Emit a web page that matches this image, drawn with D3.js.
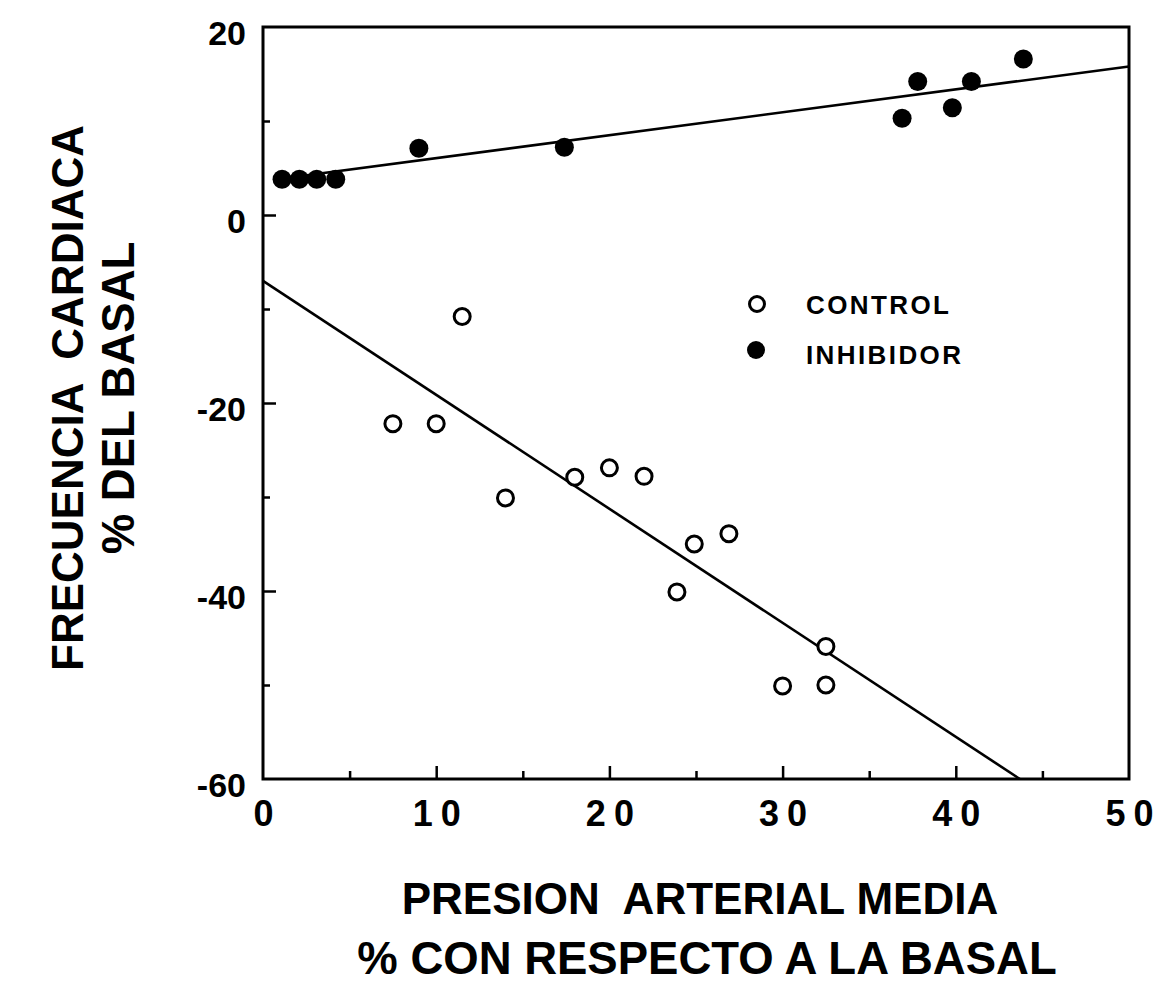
<!DOCTYPE html>
<html>
<head>
<meta charset="utf-8">
<script src="https://cdn.jsdelivr.net/npm/d3@7/dist/d3.min.js"></script>
<style>
  html, body { margin: 0; padding: 0; background: #fff; }
  svg { display: block; }
  text { font-family: "Liberation Sans", Arial, Helvetica, sans-serif; font-weight: bold; fill: #000; }
</style>
</head>
<body>
<svg id="chart" width="1161" height="992"></svg>
<script>
// Heart rate change vs. mean arterial pressure change (% of baseline)
const controlX = [7.5, 10.0, 11.5, 14.0, 18.0, 20.0, 22.0, 24.9, 26.9, 23.9, 30.0, 32.5, 32.5];
const controlY = [-22.2, -22.2, -10.8, -30.1, -27.9, -26.9, -27.8, -35.0, -33.9, -40.1, -50.1, -45.9, -50.0];

const inhibidorX = [1.1, 2.1, 3.1, 4.2, 9.0, 17.4, 36.9, 37.8, 39.8, 40.9, 43.9];
const inhibidorY = [3.8, 3.8, 3.8, 3.8, 7.1, 7.2, 10.3, 14.2, 11.4, 14.2, 16.6];

// Fitted regression lines (endpoints)
const controlFitX = [0, 43.7];
const controlFitY = [-7.0, -60.0];
const inhibidorFitX = [1.0, 50.0];
const inhibidorFitY = [3.85, 15.8];

const xTickLabels = [0, 10, 20, 30, 40, 50];
const xMajorTicks = [10, 20, 30, 40];
const xMinorTicks = [5, 15, 25, 35, 45];
const yTickLabels = [20, 0, -20, -40, -60];
const yMajorTicks = [0, -20, -40];
const yMinorTicks = [10, -10, -30, -50];

const legendLabels = ["CONTROL", "INHIBIDOR"];
const xTitle = ["PRESION  ARTERIAL MEDIA", "% CON RESPECTO A LA BASAL"];
const yTitle = ["FRECUENCIA  CARDIACA", "% DEL BASAL"];

const svg = d3.select("#chart");
const plotLeft = 263, plotRight = 1129, plotTop = 27, plotBottom = 779;

const x = d3.scaleLinear().domain([0, 50]).range([plotLeft, plotRight]);
const y = d3.scaleLinear().domain([-60, 20]).range([plotBottom, plotTop]);

// Inward ticks on the bottom axis
function bottomTicks(values, size) {
  const g = svg.append("g").attr("transform", `translate(0,${plotBottom})`)
    .call(d3.axisBottom(x).tickValues(values).tickSizeInner(-size).tickSizeOuter(0).tickFormat(""));
  g.select(".domain").remove();
  g.selectAll("line").attr("stroke", "#000").attr("stroke-width", 2.5);
}
bottomTicks(xMajorTicks, 13);
bottomTicks(xMinorTicks, 8);

// Inward ticks on the left axis
function leftTicks(values, size) {
  const g = svg.append("g").attr("transform", `translate(${plotLeft},0)`)
    .call(d3.axisLeft(y).tickValues(values).tickSizeInner(-size).tickSizeOuter(0).tickFormat(""));
  g.select(".domain").remove();
  g.selectAll("line").attr("stroke", "#000").attr("stroke-width", 2.5);
}
leftTicks(yMajorTicks, 13);
leftTicks(yMinorTicks, 7);

// Bottom tick labels: digits drawn with a gap between them
const xl = svg.append("g").attr("transform", `translate(0,${plotBottom})`)
  .call(d3.axisBottom(x).tickValues(xTickLabels).tickSize(0).tickPadding(21).tickFormat(d => String(d)));
xl.select(".domain").remove();
xl.selectAll("text")
  .style("font-size", "36px")
  .style("font-family", '"Liberation Sans", Arial, sans-serif')
  .style("font-weight", "bold")
  .each(function(d) {
    const t = d3.select(this);
    const chars = String(d).split("");
    t.text(null);
    chars.forEach((c, i) => t.append("tspan").attr("dx", i === 0 ? 0 : 8).text(c));
  });

// Left tick labels (plain hyphen minus)
const yl = svg.append("g").attr("transform", `translate(${plotLeft},0)`)
  .call(d3.axisLeft(y).tickValues(yTickLabels).tickSize(0).tickPadding(17).tickFormat(d => String(d)));
yl.select(".domain").remove();
yl.selectAll("text")
  .style("font-size", "34px")
  .style("font-family", '"Liberation Sans", Arial, sans-serif')
  .style("font-weight", "bold")
  .attr("dy", "0.5em");

// Frame
svg.append("rect")
  .attr("x", plotLeft).attr("y", plotTop)
  .attr("width", plotRight - plotLeft).attr("height", plotBottom - plotTop)
  .attr("fill", "none").attr("stroke", "#000").attr("stroke-width", 3);

// Regression lines
const line = d3.line().x(d => x(d[0])).y(d => y(d[1]));
svg.append("path")
  .datum(controlFitX.map((v, i) => [v, controlFitY[i]]))
  .attr("d", line).attr("fill", "none").attr("stroke", "#000").attr("stroke-width", 2.6);
svg.append("path")
  .datum(inhibidorFitX.map((v, i) => [v, inhibidorFitY[i]]))
  .attr("d", line).attr("fill", "none").attr("stroke", "#000").attr("stroke-width", 2.6);

// Points
svg.append("g").selectAll("circle")
  .data(controlX.map((v, i) => [v, controlY[i]]))
  .join("circle")
  .attr("cx", d => x(d[0])).attr("cy", d => y(d[1])).attr("r", 8)
  .attr("fill", "#fff").attr("stroke", "#000").attr("stroke-width", 3);

svg.append("g").selectAll("circle")
  .data(inhibidorX.map((v, i) => [v, inhibidorY[i]]))
  .join("circle")
  .attr("cx", d => x(d[0])).attr("cy", d => y(d[1])).attr("r", 9.5)
  .attr("fill", "#000");

// Legend
const legend = svg.append("g").attr("transform", "translate(757,304)");
legend.append("circle").attr("cx", 0).attr("cy", 0).attr("r", 7.5)
  .attr("fill", "#fff").attr("stroke", "#000").attr("stroke-width", 3);
legend.append("circle").attr("cx", -1).attr("cy", 46).attr("r", 9).attr("fill", "#000");
legend.selectAll("text.lbl")
  .data(legendLabels)
  .join("text")
  .attr("class", "lbl")
  .attr("x", 49)
  .attr("y", (d, i) => i * 50 + 9.5)
  .style("font-size", "26px")
  .style("letter-spacing", "2.4px")
  .text(d => d);

// Axis titles
const xTitleX = [700, 707];
const xTitleSize = [44, 45.5];
svg.append("g").selectAll("text")
  .data(xTitle)
  .join("text")
  .attr("x", (d, i) => xTitleX[i])
  .attr("y", (d, i) => 914 + i * 60)
  .attr("text-anchor", "middle")
  .style("font-size", (d, i) => xTitleSize[i] + "px")
  .style("white-space", "pre")
  .text(d => d);

svg.append("g").selectAll("text")
  .data(yTitle)
  .join("text")
  .attr("transform", (d, i) => `translate(${83 + i * 51},398) rotate(-90)`)
  .attr("text-anchor", "middle")
  .style("font-size", (d, i) => (i === 0 ? 44 : 45.5) + "px")
  .style("white-space", "pre")
  .text(d => d);
</script>
</body>
</html>
